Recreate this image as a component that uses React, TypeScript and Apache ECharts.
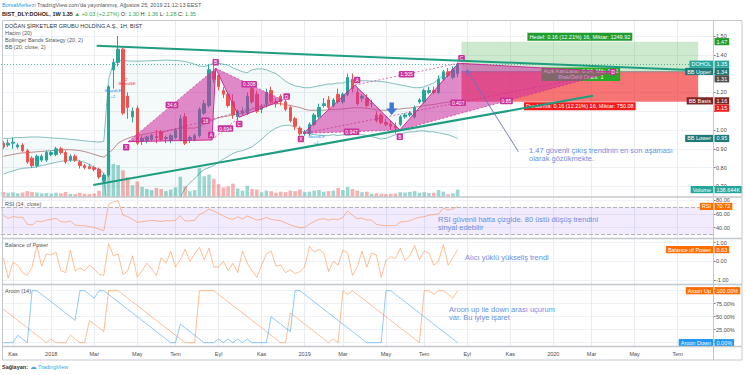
import React, { useEffect, useRef } from "react";
import * as echarts from "echarts";

const FONT = "'Liberation Sans', 'DejaVu Sans', Arial, sans-serif";

// ---------- categories (weekly bars) ----------
const weekCount = 149;
const firstWeekUTC = Date.UTC(2017, 9, 23);
const monthAbbr = ["Oca", "Şub", "Mar", "Nis", "May", "Haz", "Tem", "Ağu", "Eyl", "Eki", "Kas", "Ara"];
const labelMonths = [0, 2, 4, 6, 8, 10];
const weeks: string[] = Array.from({ length: weekCount }, (_, k) =>
  new Date(firstWeekUTC + k * 7 * 86400000).toISOString().slice(0, 10)
);

// ---------- price data (weekly OHLC) ----------
const opens = [0.93, 0.92, 0.93, 0.91, 0.92, 0.89, 0.85, 0.81, 0.84, 0.84, 0.87, 0.87, 0.9, 0.88, 0.84, 0.86, 0.83, 0.81, 0.805, 0.8, 0.79, 0.73, 0.76, 1.32, 1.36, 1.43, 1.18, 1.07, 1.115, 0.94, 0.945, 0.95, 0.965, 0.99, 0.955, 0.945, 0.96, 0.95, 1.07, 0.95, 0.95, 0.97, 1.09, 1.13, 1.31, 1.29, 1.21, 1.19, 1.15, 1.07, 1.09, 1.09, 1.22, 1.19, 1.11, 1.14, 1.21, 1.15, 1.18, 1.15, 1.12, 1.06, 1.01, 0.98, 0.98, 1.03, 1.07, 1.13, 1.16, 1.13, 1.19, 1.15, 1.19, 1.27, 1.2, 1.17, 1.17, 1.14, 1.08, 1.08, 1.04, 1.03, 1.02, 1.03, 1.07, 1.08, 1.07, 1.15, 1.15, 1.2, 1.21, 1.2, 1.27, 1.31, 1.28, 1.3];
const highs = [0.94, 0.95, 0.96, 0.93, 0.93, 0.9, 0.86, 0.87, 0.87, 0.89, 0.89, 0.91, 0.91, 0.89, 0.87, 0.87, 0.84, 0.82, 0.82, 0.81, 0.8, 0.77, 1.24, 1.38, 1.5, 1.44, 1.2, 1.12, 1.13, 0.97, 0.97, 0.98, 1.0, 1.0, 0.97, 0.98, 1.01, 1.08, 1.09, 0.97, 0.98, 1.12, 1.16, 1.35, 1.38, 1.3, 1.23, 1.2, 1.19, 1.11, 1.12, 1.2, 1.24, 1.21, 1.14, 1.22, 1.23, 1.17, 1.19, 1.16, 1.13, 1.07, 1.02, 1.0, 1.04, 1.09, 1.14, 1.17, 1.18, 1.17, 1.22, 1.2, 1.3, 1.3, 1.22, 1.19, 1.19, 1.16, 1.1, 1.09, 1.06, 1.05, 1.04, 1.08, 1.09, 1.1, 1.13, 1.17, 1.22, 1.23, 1.23, 1.29, 1.32, 1.33, 1.34, 1.36];
const lows = [0.9, 0.91, 0.9, 0.9, 0.88, 0.82, 0.8, 0.8, 0.83, 0.83, 0.86, 0.86, 0.87, 0.82, 0.83, 0.83, 0.795, 0.79, 0.79, 0.78, 0.74, 0.72, 0.75, 1.22, 1.34, 1.08, 1.06, 1.04, 0.92, 0.92, 0.93, 0.94, 0.93, 0.94, 0.93, 0.93, 0.95, 0.94, 0.92, 0.93, 0.94, 0.96, 1.08, 1.12, 1.25, 1.21, 1.17, 1.12, 1.06, 1.05, 1.08, 1.08, 1.14, 1.09, 1.09, 1.12, 1.14, 1.12, 1.13, 1.1, 1.04, 1.0, 0.97, 0.97, 0.97, 1.02, 1.06, 1.12, 1.11, 1.12, 1.14, 1.14, 1.18, 1.2, 1.13, 1.15, 1.12, 1.12, 1.04, 1.03, 1.02, 1.0, 0.98, 1.02, 1.06, 1.07, 1.06, 1.14, 1.14, 1.19, 1.19, 1.19, 1.26, 1.28, 1.27, 1.28];
const closes = [0.91, 0.93, 0.935, 0.92, 0.89, 0.83, 0.81, 0.86, 0.86, 0.88, 0.88, 0.9, 0.88, 0.83, 0.86, 0.84, 0.81, 0.8, 0.795, 0.79, 0.75, 0.76, 1.23, 1.36, 1.43, 1.09, 1.12, 1.1, 0.93, 0.955, 0.96, 0.97, 0.96, 0.95, 0.96, 0.97, 1.0, 1.06, 0.93, 0.96, 0.97, 1.11, 1.14, 1.32, 1.27, 1.23, 1.19, 1.13, 1.08, 1.1, 1.1, 1.18, 1.15, 1.1, 1.12, 1.2, 1.15, 1.14, 1.15, 1.11, 1.05, 1.02, 0.98, 0.99, 1.03, 1.08, 1.12, 1.14, 1.12, 1.16, 1.15, 1.19, 1.28, 1.22, 1.14, 1.18, 1.13, 1.14, 1.05, 1.04, 1.03, 1.02, 1.01, 1.07, 1.08, 1.09, 1.12, 1.16, 1.21, 1.21, 1.2, 1.27, 1.31, 1.29, 1.32, 1.35];
// volume in thousands
const volumes = [95, 80, 90, 70, 85, 110, 95, 85, 70, 75, 65, 80, 70, 95, 60, 55, 80, 60, 55, 65, 120, 410, 800, 620, 600, 500, 370, 220, 290, 190, 150, 130, 170, 150, 110, 140, 180, 380, 200, 110, 130, 540, 390, 420, 340, 240, 180, 200, 250, 160, 120, 210, 150, 140, 90, 120, 110, 80, 100, 90, 120, 110, 140, 90, 100, 120, 130, 100, 110, 120, 170, 130, 190, 150, 120, 90, 100, 60, 70, 60, 55, 60, 65, 90, 85, 95, 110, 80, 90, 75, 80, 130, 100, 55, 70, 138.644];

// ---------- Bollinger Bands (20, 2) ----------
const bbUpper = [0.955, 0.955, 0.958, 0.96, 0.96, 0.962, 0.963, 0.963, 0.962, 0.96, 0.958, 0.956, 0.955, 0.953, 0.95, 0.948, 0.945, 0.942, 0.94, 0.938, 0.935, 0.94, 1.27, 1.355, 1.37, 1.37, 1.368, 1.366, 1.366, 1.367, 1.368, 1.369, 1.37, 1.371, 1.372, 1.371, 1.37, 1.368, 1.364, 1.358, 1.35, 1.34, 1.338, 1.345, 1.355, 1.355, 1.35, 1.345, 1.33, 1.32, 1.31, 1.305, 1.32, 1.325, 1.325, 1.32, 1.31, 1.3, 1.28, 1.26, 1.245, 1.235, 1.23, 1.225, 1.225, 1.23, 1.235, 1.24, 1.245, 1.245, 1.25, 1.25, 1.26, 1.26, 1.26, 1.262, 1.262, 1.26, 1.26, 1.258, 1.255, 1.25, 1.245, 1.24, 1.235, 1.23, 1.225, 1.225, 1.23, 1.24, 1.25, 1.27, 1.29, 1.305, 1.32, 1.34];
const bbBasis = [0.86, 0.865, 0.87, 0.875, 0.878, 0.88, 0.882, 0.884, 0.886, 0.888, 0.89, 0.892, 0.894, 0.895, 0.895, 0.893, 0.89, 0.885, 0.878, 0.87, 0.862, 0.856, 0.875, 0.9, 0.93, 0.945, 0.955, 0.965, 0.97, 0.975, 0.98, 0.985, 0.99, 0.99, 0.995, 1.0, 1.005, 1.01, 1.01, 1.01, 1.01, 1.02, 1.03, 1.045, 1.055, 1.065, 1.07, 1.075, 1.08, 1.085, 1.09, 1.1, 1.11, 1.12, 1.125, 1.13, 1.135, 1.14, 1.14, 1.135, 1.13, 1.125, 1.12, 1.11, 1.105, 1.105, 1.105, 1.105, 1.108, 1.11, 1.11, 1.112, 1.115, 1.118, 1.118, 1.118, 1.115, 1.112, 1.108, 1.105, 1.105, 1.108, 1.11, 1.112, 1.115, 1.117, 1.12, 1.125, 1.13, 1.133, 1.136, 1.14, 1.145, 1.148, 1.152, 1.155];
const bbLower = [0.765, 0.775, 0.782, 0.79, 0.796, 0.798, 0.8, 0.805, 0.81, 0.816, 0.822, 0.828, 0.833, 0.837, 0.84, 0.838, 0.835, 0.828, 0.816, 0.802, 0.789, 0.772, 0.48, 0.445, 0.49, 0.52, 0.54, 0.56, 0.575, 0.58, 0.585, 0.59, 0.595, 0.6, 0.605, 0.61, 0.615, 0.64, 0.69, 0.72, 0.74, 0.77, 0.79, 0.8, 0.81, 0.83, 0.845, 0.86, 0.875, 0.885, 0.89, 0.9, 0.91, 0.93, 0.95, 0.975, 0.995, 1.01, 1.02, 1.025, 1.025, 1.015, 1.0, 0.985, 0.98, 0.975, 0.972, 0.97, 0.97, 0.975, 0.97, 0.975, 0.97, 0.975, 0.975, 0.975, 0.97, 0.965, 0.958, 0.952, 0.955, 0.965, 0.975, 0.98, 0.985, 0.99, 0.99, 0.995, 0.995, 0.99, 0.99, 0.985, 0.98, 0.975, 0.965, 0.955];

// ---------- indicators ----------
const rsi = [58, 53.5, 56, 55, 55, 45, 44, 49.5, 48.7, 51, 52, 53.5, 48.7, 48, 49.6, 43.8, 43, 42.9, 41.5, 40.4, 38, 35.6, 73.7, 77.6, 78.6, 58.3, 55.9, 52, 47.7, 48.7, 49.5, 50.6, 50, 49, 50.1, 50, 50.6, 57.4, 49.6, 50, 50.6, 59.3, 62, 67, 64, 60.8, 57, 53.5, 52, 55.9, 52.5, 57, 54, 51, 52, 55, 52, 51, 50, 47, 44, 42, 40, 40.5, 45, 49, 52, 53, 51, 52.5, 51.5, 55, 64, 58, 53, 54, 51, 51, 45, 43.5, 43, 43, 43, 48, 49, 50, 53, 55, 56, 58, 59, 60, 68, 65.5, 67, 70.72];
const bop = [0.2, -0.9, -0.05, -0.2, -0.6, -0.75, -0.3, 0.85, -0.25, 0.4, 0.35, 0.5, -0.5, -0.6, 0.6, -0.5, -0.35, -0.5, -0.2, -0.4, -0.7, -0.75, 0.95, 0.3, 0.4, -0.7, -0.5, 0.3, -0.85, -0.5, -0.1, -0.4, -0.75, 0.2, -0.1, 0.55, -0.3, 0.1, 0.65, 0.0, 0.4, 0.75, 0.1, 0.7, -0.3, -0.3, 0.0, -0.5, -0.1, -0.6, 0.55, -0.1, -0.5, -0.85, -0.2, 0.4, 0.55, -0.25, -0.2, -0.6, -0.45, -0.65, -0.55, -0.3, 0.8, 0.5, 0.65, 0.45, -0.55, 0.0, -0.2, 0.6, 0.45, -0.75, -0.3, 0.55, -0.3, 0.45, 0.35, -0.85, 0.05, 0.25, 0.15, 0.7, 0.05, 0.3, 0.85, 0.1, 0.55, 0.45, -0.2, 0.0, 0.9, -0.2, 0.2, 0.63];
const aroonUp = [64.29, 57.14, 50, 42.86, 35.71, 28.57, 21.43, 14.29, 7.14, 0, 7.14, 0, 0, 0, 14.29, 7.14, 0, 0, 42.86, 35.71, 28.57, 21.43, 100, 100, 100, 92.86, 85.71, 78.57, 71.43, 64.29, 57.14, 50, 42.86, 35.71, 28.57, 21.43, 14.29, 7.14, 0, 0, 0, 100, 100, 100, 100, 92.86, 85.71, 78.57, 71.43, 64.29, 57.14, 50, 42.86, 35.71, 28.57, 21.43, 14.29, 7.14, 0, 0, 57.14, 50, 42.86, 35.71, 28.57, 21.43, 14.29, 7.14, 0, 7.14, 0, 100, 92.86, 100, 92.86, 85.71, 78.57, 71.43, 64.29, 57.14, 50, 42.86, 35.71, 28.57, 21.43, 14.29, 7.14, 0, 100, 100, 92.86, 100, 100, 92.86, 85.71, 100];
const aroonDown = [0, 0, 0, 14.29, 7.14, 0, 100, 100, 92.86, 85.71, 78.57, 71.43, 64.29, 57.14, 50, 42.86, 100, 100, 92.86, 85.71, 100, 100, 92.86, 85.71, 78.57, 71.43, 64.29, 57.14, 50, 42.86, 35.71, 28.57, 21.43, 14.29, 7.14, 0, 0, 35.71, 28.57, 21.43, 14.29, 7.14, 0, 0, 0, 7.14, 0, 7.14, 0, 7.14, 0, 7.14, 0, 0, 0, 0, 50, 42.86, 35.71, 28.57, 21.43, 100, 100, 92.86, 85.71, 78.57, 71.43, 64.29, 57.14, 50, 42.86, 35.71, 28.57, 21.43, 14.29, 7.14, 0, 0, 0, 0, 100, 100, 92.86, 85.71, 78.57, 71.43, 64.29, 57.14, 50, 42.86, 35.71, 28.57, 21.43, 14.29, 7.14, 0];

// ---------- ticks & tick labels ----------
const priceGridValues = [0.7, 0.8, 0.9, 1.0, 1.1, 1.2, 1.3, 1.4, 1.5];
const priceTickLabels = [0.7, 0.8, 0.9, 1.0, 1.2, 1.4, 1.5];
const rsiTicks = [40, 60, 80];
const bopTicks = [-1, 0, 1];
const aroonTicks = [0, 25, 50, 75, 100];

// ---------- drawings (bar index, price) ----------
const trendUpper = [[19.5, 1.448], [143.6, 1.319]];
const trendLower = [[18.8, 0.707], [123.3, 1.182]];
const pattern1 = { X: [26.1, 0.938], A: [43.6, 0.947], B: [44.4, 1.328], C: [49.3, 1.068], D: [58.4, 1.16] };
const pattern1Ratios = { XB: "34.6", XD: "18", AC: "0.694", BD: "0.308" };
const pattern2 = { X: [62.7, 0.982], A: [73.5, 1.239], B: [82.9, 1.0], C: [95.1, 1.355], D: [127.5, 1.309] };
const pattern2Ratios = { XB: "0.947", XD: "0.407", AC: "1.505", BD: "0.85" };
const positionTool = { from: 95.8, to: 145.3, entry: 1.31, target: 1.47, stop: 1.15 };
const targetText = "Hedef: 0.16 (12.21%) 16, Miktar: 1249.92";
const stopText = "Durdurma: 0.16 (12.21%) 16, Miktar: 750.08";
const pnlText = "Açık Kar/Zarar: 0.04, Mik: 1.52\nRisk/Ödül Oranı: 1";
const noteArrow = [[107.7, 0.885], [96.9, 1.319]];
const downArrowAt = [81.2, 1.112];
const strategyMarks = [
  { i: 22.9, p: 1.209, text: "BbandLE", color: "#2196f3" },
  { i: 22.9, p: 1.18, text: "+2", color: "#2196f3" },
  { i: 25.6, p: 1.27, text: "-2", color: "#f23645" },
  { i: 25.9, p: 1.245, text: "BbandSE", color: "#f23645" },
  { i: 65.5, p: 0.964, text: "BbandLE", color: "#2196f3" },
  { i: 65.4, p: 0.935, text: "+2", color: "#2196f3" },
];

// ---------- layout ----------
const GRID_LEFT = 1;
const GRID_WIDTH = 712.5;
const AXIS_X = GRID_LEFT + GRID_WIDTH;
const paneTops = [21, 197, 238.5, 284.5];
const paneHeights = [176, 41.5, 46, 62];

const isLabelWeek = (v: string) => {
  const d = new Date(v + "T00:00:00Z");
  return d.getUTCDate() <= 7 && labelMonths.includes(d.getUTCMonth());
};
const weekLabel = (v: string) => {
  const d = new Date(v + "T00:00:00Z");
  return d.getUTCMonth() === 0 ? String(d.getUTCFullYear()) : monthAbbr[d.getUTCMonth()];
};

const UP = "#26a69a";
const DOWN = "#ef5350";
const ORANGE_LINE = "rgba(255,125,45,0.5)";
const BLUE_LINE = "rgba(33,150,243,0.5)";

function yAxisFor(gridIndex: number, min: number, max: number, ticks: number[], labels: number[], suffix = "") {
  return {
    type: "value",
    gridIndex,
    position: "right",
    min,
    max,
    axisLine: { show: false },
    axisTick: { show: true, length: 2, lineStyle: { color: "#777" }, customValues: ticks },
    axisLabel: {
      fontSize: 5.5,
      color: "#4a4a4a",
      margin: 2.5,
      fontFamily: FONT,
      customValues: labels,
      formatter: (v: number) => v.toFixed(2) + suffix,
    },
    splitLine: { show: true, lineStyle: { color: "#eef1f5", width: 1 } },
  };
}

function buildOption(): any {
  const grids = paneTops.map((top, k) => ({ left: GRID_LEFT, width: GRID_WIDTH, top, height: paneHeights[k], show: false }));
  const xAxes = grids.map((_, k) => ({
    type: "category",
    gridIndex: k,
    data: weeks,
    boundaryGap: true,
    axisLine: { show: false },
    axisTick: { show: false, alignWithLabel: true },
    axisLabel: {
      show: k === 3,
      interval: (_i: number, v: string) => isLabelWeek(v),
      formatter: (v: string) => weekLabel(v),
      fontSize: 5.5,
      color: "#4a4a4a",
      margin: 4.5,
      fontFamily: FONT,
    },
    splitLine: {
      show: true,
      interval: (_i: number, v: string) => isLabelWeek(v),
      alignWithLabel: true,
      lineStyle: { color: "#e9edf2", width: 1 },
    },
  }));
  const yAxes = [
    yAxisFor(0, 0.6436, 1.5798, priceGridValues, priceTickLabels),
    { type: "value", gridIndex: 0, min: 0, max: 3300, show: false, splitLine: { show: false } },
    yAxisFor(1, 24.4, 84.33, rsiTicks, rsiTicks),
    yAxisFor(2, -1.2353, 1.2246, bopTicks, bopTicks),
    yAxisFor(3, -7.3, 111.9, aroonTicks, aroonTicks, "%"),
  ];
  const lastClose = closes[closes.length - 1];
  const series: any[] = [
    {
      type: "bar",
      name: "Volume",
      xAxisIndex: 0,
      yAxisIndex: 1,
      barWidth: 3.6,
      z: 1,
      data: volumes.map((v, i) => ({
        value: v,
        itemStyle: { color: closes[i] >= opens[i] ? "rgba(38,166,154,0.45)" : "rgba(239,83,80,0.45)" },
      })),
    },
    {
      type: "line",
      name: "BB Lower",
      xAxisIndex: 0,
      yAxisIndex: 0,
      stack: "bb",
      data: bbLower,
      symbol: "none",
      lineStyle: { color: "rgba(19,132,132,0.5)", width: 1 },
      z: 2,
    },
    {
      type: "line",
      name: "BB Upper",
      xAxisIndex: 0,
      yAxisIndex: 0,
      stack: "bb",
      data: bbUpper.map((u, i) => u - bbLower[i]),
      symbol: "none",
      lineStyle: { color: "rgba(19,132,132,0.5)", width: 1 },
      areaStyle: { color: "rgba(25,135,135,0.07)" },
      z: 2,
    },
    {
      type: "line",
      name: "BB Basis",
      xAxisIndex: 0,
      yAxisIndex: 0,
      data: bbBasis,
      symbol: "none",
      lineStyle: { color: "rgba(135,35,35,0.5)", width: 1 },
      z: 2,
    },
    {
      type: "candlestick",
      name: "DOHOL",
      xAxisIndex: 0,
      yAxisIndex: 0,
      barWidth: 3,
      z: 5,
      data: opens.map((o, i) => [o, closes[i], lows[i], highs[i]]),
      itemStyle: { color: UP, color0: DOWN, borderColor: UP, borderColor0: DOWN, borderWidth: 1 },
      markLine: {
        silent: true,
        symbol: ["none", "none"],
        label: { show: false },
        lineStyle: { color: "rgba(38,166,154,0.8)", type: [1, 2], width: 1 },
        data: [{ yAxis: lastClose }],
      },
    },
    {
      type: "line",
      name: "RSI",
      xAxisIndex: 1,
      yAxisIndex: 2,
      data: rsi,
      symbol: "none",
      lineStyle: { color: ORANGE_LINE, width: 1 },
      markArea: {
        silent: true,
        itemStyle: { color: "rgba(140,70,240,0.11)" },
        data: [[{ yAxis: 30 }, { yAxis: 70 }]],
      },
      markLine: {
        silent: true,
        symbol: ["none", "none"],
        label: { show: false },
        lineStyle: { color: "#b4b4b4", type: "dashed", width: 1 },
        data: [{ yAxis: 70 }, { yAxis: 30 }],
      },
    },
    {
      type: "line",
      name: "Balance of Power",
      xAxisIndex: 2,
      yAxisIndex: 3,
      data: bop,
      symbol: "none",
      lineStyle: { color: ORANGE_LINE, width: 1 },
    },
    {
      type: "line",
      name: "Aroon Up",
      xAxisIndex: 3,
      yAxisIndex: 4,
      data: aroonUp,
      symbol: "none",
      lineStyle: { color: ORANGE_LINE, width: 1 },
    },
    {
      type: "line",
      name: "Aroon Down",
      xAxisIndex: 3,
      yAxisIndex: 4,
      data: aroonDown,
      symbol: "none",
      lineStyle: { color: BLUE_LINE, width: 1 },
    },
  ];
  return { animation: false, backgroundColor: "#ffffff", grid: grids, xAxis: xAxes, yAxis: yAxes, series };
}

function txt(x: number, y: number, text: string, extra: any = {}, z = 80): any {
  return {
    type: "text",
    x,
    y,
    z,
    silent: true,
    style: { text, fontSize: 5.5, fontFamily: FONT, fill: "#4a4a4a", align: "left", verticalAlign: "middle", ...extra },
  };
}

function buildGraphics(chart: any): any[] {
  const toPx = (i: number, p: number) => {
    const i0 = Math.floor(i);
    const f = i - i0;
    const a = chart.convertToPixel({ xAxisIndex: 0, yAxisIndex: 0 }, [i0, p]);
    const b = chart.convertToPixel({ xAxisIndex: 0, yAxisIndex: 0 }, [i0 + 1, p]);
    return [a[0] + f * (b[0] - a[0]), a[1]];
  };
  const yPx = (v: number, yAxisIndex: number) => chart.convertToPixel({ yAxisIndex }, v) as number;
  const g: any[] = [];

  // ----- frame -----
  const frameColor = "#c4c7cc";
  g.push({ type: "rect", z: 95, silent: true, shape: { x: 2.5, y: 20.5, width: 739.5, height: 339.5 }, style: { fill: "none", stroke: frameColor, lineWidth: 1 } });
  [197, 238.5, 284.5, 346.5].forEach((y) =>
    g.push({ type: "line", z: 95, silent: true, shape: { x1: 2.5, y1: y, x2: 742, y2: y }, style: { stroke: frameColor, lineWidth: 1.5 } })
  );
  g.push({ type: "line", z: 95, silent: true, shape: { x1: AXIS_X, y1: 20.5, x2: AXIS_X, y2: 360 }, style: { stroke: frameColor, lineWidth: 1 } });

  // ----- header -----
  g.push(
    txt(2, 5, "{a|BorsaMerkezi} TradingView.com'da yayınlanmış, Ağustos 25, 2019 21:12:13 EEST", {
      fill: "#555",
      rich: { a: { fill: "#2b9be0", fontSize: 5.5, fontFamily: FONT } },
    })
  );
  g.push(
    txt(2, 14, "{b|BIST_DLY:DOHOL, 1W} {c|1.35} {g|▲ +0.03 (+2.27%)} O: {g|1.30} H: {g|1.36} L: {g|1.28} C: {g|1.35}", {
      fill: "#333",
      rich: {
        b: { fill: "#222", fontWeight: "bold", fontSize: 5.5, fontFamily: FONT },
        c: { fill: "#222", fontWeight: "bold", fontSize: 5.5, fontFamily: FONT },
        g: { fill: "#2ea84a", fontSize: 5.5, fontFamily: FONT },
      },
    })
  );

  // ----- pane legends -----
  g.push(txt(5, 25.5, "DOĞAN ŞİRKETLER GRUBU HOLDİNG A.Ş., 1H, BIST", { fill: "#333" }));
  g.push(txt(5, 32.5, "Hacim (20)", { fill: "#555" }));
  g.push(txt(5, 39.5, "Bollinger Bands Strategy (20, 2)", { fill: "#555" }));
  g.push(txt(5, 46.5, "BB (20, close, 2)", { fill: "#555" }));
  g.push(txt(5, 203.5, "RSI (14, close)", { fill: "#555" }));
  g.push(txt(5, 245, "Balance of Power", { fill: "#555" }));
  g.push(txt(5, 290.5, "Aroon (14)", { fill: "#555" }));

  // ----- footer -----
  g.push(txt(2, 366.5, "Sağlayan:", { fill: "#333", fontWeight: "bold" }));
  g.push(txt(30, 366.5, "☁", { fill: "#39a7e6", fontSize: 6.5 }));
  g.push(txt(38, 366.5, "TradingView", { fill: "#39a7e6" }));

  // ----- position tool (long) -----
  const pt = positionTool;
  const pL = toPx(pt.from, pt.entry);
  const pR = toPx(pt.to, pt.entry);
  const yT = yPx(pt.target, 0);
  const yS = yPx(pt.stop, 0);
  const yE = pL[1];
  g.push({ type: "rect", z: 20, silent: true, shape: { x: pL[0], y: yT, width: pR[0] - pL[0], height: yE - yT }, style: { fill: "rgba(76,175,80,0.28)" } });
  g.push({ type: "rect", z: 20, silent: true, shape: { x: pL[0], y: yE, width: pR[0] - pL[0], height: yS - yE }, style: { fill: "rgba(240,30,30,0.62)" } });
  g.push({ type: "line", z: 21, silent: true, shape: { x1: pL[0], y1: yE, x2: pR[0], y2: yE }, style: { stroke: "#8a8a8a", lineWidth: 1 } });
  const cx = (pL[0] + pR[0]) / 2;
  g.push(txt(cx, yT - 5, targetText, { fill: "#fff", align: "center", backgroundColor: "#1f9d2f", padding: [1.2, 2, 0.8, 2] }, 22));
  g.push(txt(cx, yS + 4.5, stopText, { fill: "#fff", align: "center", backgroundColor: "#f01c1c", padding: [1.2, 2, 0.8, 2] }, 22));
  g.push(txt(cx + 1, yE + 2.5, pnlText, { fill: "#fff", align: "center", backgroundColor: "#27ab27", padding: [1, 2, 0.5, 2], lineHeight: 6 }, 22));

  // ----- harmonic patterns -----
  const pinkFill = "rgba(205,45,160,0.55)";
  const pinkLine = "rgba(200,40,150,0.95)";
  const pinkTag = "#c9319b";
  const tag = (x: number, y: number, t: string) =>
    txt(x, y, t, { fill: "#fff", align: "center", backgroundColor: pinkTag, padding: [1, 1.5, 0.5, 1.5], borderRadius: 1, fontSize: 5 }, 40);
  const drawPattern = (pts: any, ratios: any, off: any) => {
    const P: any = {};
    Object.keys(pts).forEach((k) => (P[k] = toPx(pts[k][0], pts[k][1])));
    g.push({ type: "polygon", z: 30, silent: true, shape: { points: [P.X, P.A, P.B] }, style: { fill: pinkFill } });
    g.push({ type: "polygon", z: 30, silent: true, shape: { points: [P.B, P.C, P.D] }, style: { fill: pinkFill } });
    g.push({ type: "polyline", z: 31, silent: true, shape: { points: [P.X, P.A, P.B, P.C, P.D] }, style: { stroke: pinkLine, lineWidth: 1, fill: null } });
    const pairs: any = { XB: ["X", "B"], XD: ["X", "D"], AC: ["A", "C"], BD: ["B", "D"] };
    Object.keys(pairs).forEach((key) => {
      const [a, b] = pairs[key];
      g.push({ type: "line", z: 31, silent: true, shape: { x1: P[a][0], y1: P[a][1], x2: P[b][0], y2: P[b][1] }, style: { stroke: pinkLine, lineWidth: 0.7, lineDash: [2, 2] } });
      g.push(tag((P[a][0] + P[b][0]) / 2, (P[a][1] + P[b][1]) / 2, ratios[key]));
    });
    ["X", "A", "B", "C", "D"].forEach((k) => g.push(tag(P[k][0] + off[k][0], P[k][1] + off[k][1], k)));
  };
  drawPattern(pattern1, pattern1Ratios, { X: [-2, 5.6], A: [-0.7, -5], B: [0, -6], C: [0, 6.7], D: [4, -3.3] });
  drawPattern(pattern2, pattern2Ratios, { X: [-2.3, 5.7], A: [2.3, -5], B: [0, 6.7], C: [3.4, -5], D: [0, 0] });

  // ----- trend lines -----
  [trendUpper, trendLower].forEach((ln) => {
    const a = toPx(ln[0][0], ln[0][1]);
    const b = toPx(ln[1][0], ln[1][1]);
    g.push({ type: "line", z: 45, silent: true, shape: { x1: a[0], y1: a[1], x2: b[0], y2: b[1] }, style: { stroke: "#1f9d80", lineWidth: 2 } });
  });

  // ----- note arrow -----
  const n0 = toPx(noteArrow[0][0], noteArrow[0][1]);
  const n1 = toPx(noteArrow[1][0], noteArrow[1][1]);
  g.push({ type: "line", z: 46, silent: true, shape: { x1: n0[0], y1: n0[1], x2: n1[0], y2: n1[1] }, style: { stroke: "rgba(95,115,200,0.9)", lineWidth: 1 } });
  {
    const dx = n1[0] - n0[0];
    const dy = n1[1] - n0[1];
    const L = Math.hypot(dx, dy);
    const ux = dx / L;
    const uy = dy / L;
    const s = 5;
    const bx = n1[0] - ux * s;
    const by = n1[1] - uy * s;
    const qx = -uy * s * 0.55;
    const qy = ux * s * 0.55;
    g.push({ type: "polyline", z: 46, silent: true, shape: { points: [[bx + qx, by + qy], n1, [bx - qx, by - qy]] }, style: { stroke: "rgba(95,115,200,0.9)", lineWidth: 1, fill: null } });
  }

  // ----- big blue down arrow -----
  {
    const [ax, ay] = toPx(downArrowAt[0], downArrowAt[1]);
    g.push({
      type: "polygon",
      z: 46,
      silent: true,
      shape: { points: [[ax - 2.2, ay - 6.5], [ax + 2.2, ay - 6.5], [ax + 2.2, ay - 0.5], [ax + 5.5, ay - 0.5], [ax, ay + 6], [ax - 5.5, ay - 0.5], [ax - 2.2, ay - 0.5]] },
      style: { fill: "#3a7bd5" },
    });
  }

  // ----- strategy markers -----
  strategyMarks.forEach((m) => {
    const [x, y] = toPx(m.i, m.p);
    g.push(txt(x, y, m.text, { fill: m.color, align: "center", fontSize: 4 }, 47));
  });

  // ----- comments -----
  const note = { fill: "#6b8fe3", fontSize: 7.5 };
  g.push(txt(529, 150, "1.47 güvenli çıkış trendinin en son aşaması", note, 48));
  g.push(txt(529, 158, "olarak gözükmekte.", note, 48));
  g.push(txt(438, 219.5, "RSI güvenli hatta çizgide. 80 üstü düşüş trendini", note, 48));
  g.push(txt(438, 227.5, "sinyal edebilir", note, 48));
  g.push(txt(465, 257.5, "Alıcı yüklü yükseliş trendi", note, 48));
  g.push(txt(449, 309.5, "Aroon up ile down arası uçurum", note, 48));
  g.push(txt(449, 317.5, "var. Bu iyiye işaret", note, 48));

  // ----- right axis price tags -----
  const valueTag = (y: number, t: string, bg: string) =>
    txt(AXIS_X + 1, y, t, { fill: "#fff", backgroundColor: bg, padding: [0.8, 2, 0.4, 2] }, 90);
  const nameTag = (y: number, t: string, bg: string) =>
    txt(AXIS_X - 0.5, y, t, { fill: "#fff", align: "right", backgroundColor: bg, padding: [0.8, 2, 0.4, 2] }, 90);
  const last = (arr: number[]) => arr[arr.length - 1];
  const mainTags = [
    { v: pt.target, label: pt.target.toFixed(2), name: "", bg: "#1f9d2f" },
    { v: last(closes), label: last(closes).toFixed(2), name: "DOHOL", bg: "#26a69a" },
    { v: last(bbUpper), label: last(bbUpper).toFixed(2), name: "BB Upper", bg: "#1d7a78" },
    { v: pt.entry, label: pt.entry.toFixed(2), name: "", bg: "#4f4f4f" },
    { v: pt.stop, label: pt.stop.toFixed(2), name: "", bg: "#f01c1c" },
    { v: last(bbBasis), label: last(bbBasis).toFixed(2), name: "BB Basis", bg: "#7d2424" },
    { v: last(bbLower), label: last(bbLower).toFixed(2), name: "BB Lower", bg: "#1d7a78" },
  ];
  let prevY = -100;
  mainTags
    .map((t) => ({ ...t, y: yPx(t.v, 0) }))
    .sort((a, b) => a.y - b.y)
    .forEach((t) => {
      const y = Math.max(t.y, prevY + 7.3);
      prevY = y;
      g.push(valueTag(y, t.label, t.bg));
      if (t.name) g.push(nameTag(y, t.name, t.bg));
    });
  const volY = yPx(last(volumes), 1);
  g.push(valueTag(volY, last(volumes).toFixed(3) + "K", "#26a69a"));
  g.push(nameTag(volY, "Volume", "#26a69a"));
  const orange = "#ff6d00";
  const rY = yPx(last(rsi), 2);
  g.push(valueTag(rY, last(rsi).toFixed(2), orange));
  g.push(nameTag(rY, "RSI", orange));
  const bY = yPx(last(bop), 3);
  g.push(valueTag(bY, last(bop).toFixed(2), orange));
  g.push(nameTag(bY, "Balance of Power", orange));
  const auY = yPx(last(aroonUp), 4);
  g.push(valueTag(auY, last(aroonUp).toFixed(2) + "%", orange));
  g.push(nameTag(auY, "Aroon Up", orange));
  const adY = yPx(last(aroonDown), 4);
  g.push(valueTag(adY, last(aroonDown).toFixed(2) + "%", "#2196f3"));
  g.push(nameTag(adY, "Aroon Down", "#2196f3"));

  return g;
}

export default function App() {
  const ref = useRef<HTMLDivElement>(null);
  useEffect(() => {
    const el = ref.current;
    if (!el) return;
    const chart = echarts.init(el, null, { renderer: "svg" });
    chart.setOption(buildOption());
    chart.setOption({ graphic: { elements: buildGraphics(chart) } });
    return () => chart.dispose();
  }, []);
  return (
    <div
      ref={ref}
      style={{ position: "fixed", left: 0, top: 0, width: 745, height: 375, background: "#ffffff" }}
    />
  );
}
